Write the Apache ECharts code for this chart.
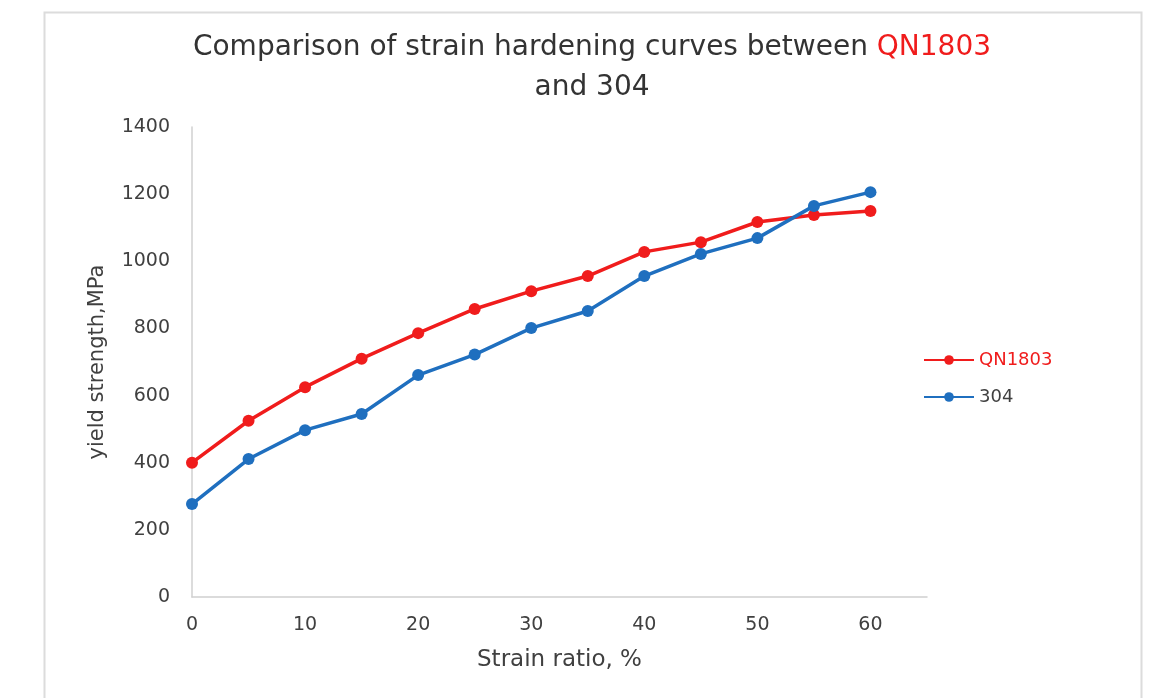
<!DOCTYPE html>
<html>
<head>
<meta charset="utf-8">
<script src="https://cdn.jsdelivr.net/npm/echarts@6/dist/echarts.min.js"></script>
<style>html,body{margin:0;padding:0;background:#fff;}#c{width:1154px;height:698px;}</style>
</head>
<body>
<div id="c"></div>
<script>
const strain = [0, 5, 10, 15, 20, 25, 30, 35, 40, 45, 50, 55, 60];
const qn1803 = [400, 525, 625, 710, 786, 858, 911, 956, 1028, 1057, 1117, 1138, 1150];
const s304 = [277, 411, 497, 545, 661, 722, 801, 852, 956, 1022, 1069, 1165, 1206];
const seriesNames = ['QN1803', '304'];
const titleLine1 = 'Comparison of strain hardening curves between ';
const titleRed = 'QN1803';
const titleLine2 = 'and 304';
const xName = 'Strain ratio, %';
const yName = 'yield strength,MPa';

const RED = '#f01c1c';
const BLUE = '#1f6fbf';
const FONT = 'DejaVu Sans';

const chart = echarts.init(document.getElementById('c'), null, {renderer: 'canvas'});
chart.setOption({
  backgroundColor: '#fff',
  animation: false,
  graphic: [{
    type: 'rect', left: 42, top: 10, silent: true,
    shape: {width: 1097, height: 700},
    style: {fill: 'none', stroke: '#dcdcdc', lineWidth: 2}
  }],
  title: {
    text: '{a|' + titleLine1 + '}{r|' + titleRed + '}\n{a|' + titleLine2 + '}',
    left: 587, top: 23, textAlign: 'center',
    textStyle: {
      fontWeight: 'normal',
      rich: {
        a: {fontFamily: FONT, fontSize: 28, fontWeight: 'normal', color: '#333', lineHeight: 40},
        r: {fontFamily: FONT, fontSize: 28, fontWeight: 'normal', color: RED, lineHeight: 40}
      }
    }
  },
  legend: {
    orient: 'vertical', left: 918, top: 346,
    itemWidth: 50, itemHeight: 12, itemGap: 19,
    textStyle: {fontFamily: FONT, fontSize: 18, color: '#404040'},
    data: [
      {name: seriesNames[0], textStyle: {color: RED}},
      {name: seriesNames[1], textStyle: {color: '#404040'}}
    ]
  },
  grid: {left: 192, right: 227, top: 127, bottom: 101, containLabel: false},
  xAxis: {
    type: 'value', min: 0, max: 65, interval: 10,
    name: xName, nameLocation: 'middle', nameGap: 52,
    nameTextStyle: {fontFamily: FONT, fontSize: 23, color: '#404040'},
    axisLine: {show: true, lineStyle: {color: '#d0d0d0', width: 1.5}},
    axisTick: {show: false},
    splitLine: {show: false},
    axisLabel: {
      fontFamily: FONT, fontSize: 19, color: '#404040', margin: 19,
      showMaxLabel: false,
      formatter: v => (v % 10 === 0 ? String(v) : '')
    }
  },
  yAxis: {
    type: 'value', min: 0, max: 1400, interval: 200,
    name: yName, nameLocation: 'middle', nameGap: 84, nameRotate: 90,
    nameTextStyle: {fontFamily: FONT, fontSize: 21, color: '#404040'},
    axisLine: {show: true, lineStyle: {color: '#d0d0d0', width: 1.5}},
    axisTick: {show: false},
    splitLine: {show: false},
    axisLabel: {fontFamily: FONT, fontSize: 19, color: '#404040', margin: 22, formatter: v => String(v)}
  },
  series: [
    {
      name: seriesNames[0], type: 'line',
      data: strain.map((x, i) => [x, qn1803[i]]),
      symbol: 'circle', symbolSize: 12,
      lineStyle: {color: RED, width: 3.5},
      itemStyle: {color: RED}
    },
    {
      name: seriesNames[1], type: 'line',
      data: strain.map((x, i) => [x, s304[i]]),
      symbol: 'circle', symbolSize: 12,
      lineStyle: {color: BLUE, width: 3.5},
      itemStyle: {color: BLUE}
    }
  ]
});
</script>
</body>
</html>
